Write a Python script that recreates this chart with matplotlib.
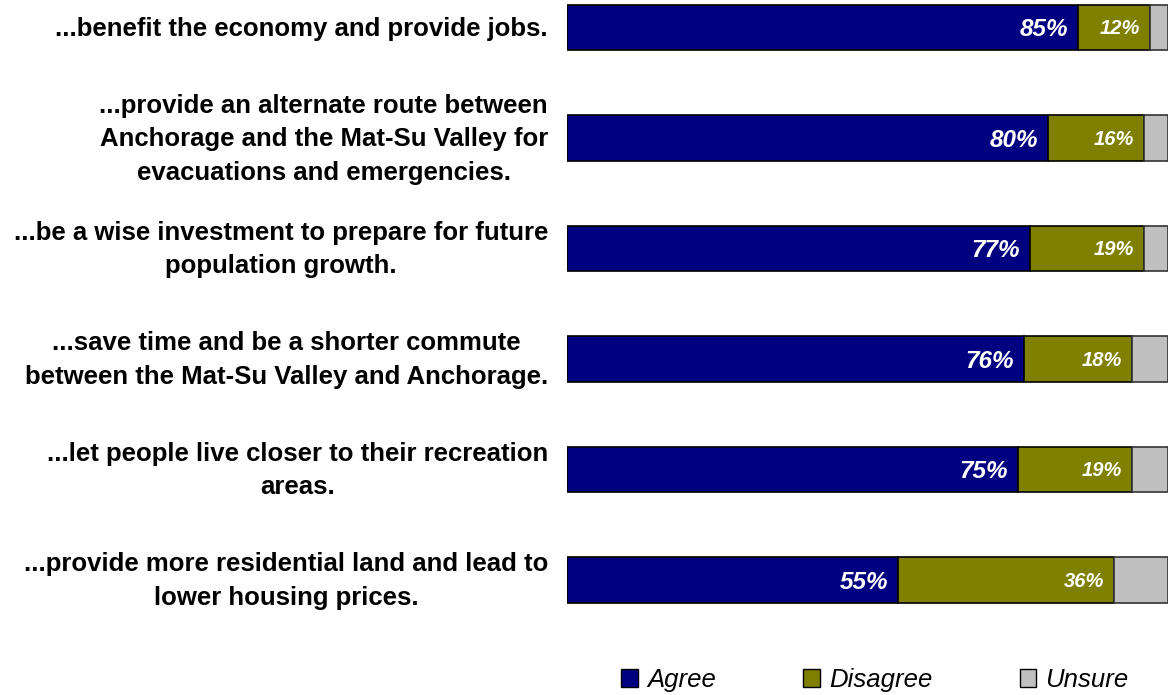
import matplotlib
matplotlib.use("Agg")
import matplotlib.pyplot as plt
from matplotlib.patches import Patch

# statements, top to bottom
labels = [
    "...benefit the economy and provide jobs.",
    "...provide an alternate route between\nAnchorage and the Mat-Su Valley for\nevacuations and emergencies.",
    "...be a wise investment to prepare for future\npopulation growth.",
    "...save time and be a shorter commute\nbetween the Mat-Su Valley and Anchorage.",
    "...let people live closer to their recreation\nareas.",
    "...provide more residential land and lead to\nlower housing prices.",
]
agree = [85, 80, 77, 76, 75, 55]
disagree = [12, 16, 19, 18, 19, 36]
unsure = [3, 4, 4, 6, 6, 9]

c_agree = "#000080"
c_dis = "#808000"
c_uns = "#c0c0c0"

plt.rcParams["font.family"] = ["Liberation Sans", "DejaVu Sans"]

fig = plt.figure(figsize=(11.71, 6.95), dpi=100)
ax = fig.add_axes([567 / 1171, 0, 601 / 1171, 1])

y = list(range(len(labels)))
h = 0.41
left2 = agree
left3 = [a + d for a, d in zip(agree, disagree)]
ax.barh(y, agree, height=h, color=c_agree, edgecolor="black", linewidth=1.2)
ax.barh(y, disagree, left=left2, height=h, color=c_dis, edgecolor="black", linewidth=1.2)
ax.barh(y, unsure, left=left3, height=h, color=c_uns, edgecolor="#333333", linewidth=1.2)

for i in y:
    ax.text(agree[i] - 1.6, i + 0.02, f"{agree[i]}%", ha="right", va="center",
            color="white", fontsize=17.5, fontweight="bold", fontstyle="italic")
    ax.text(left3[i] - 1.6, i + 0.01, f"{disagree[i]}%", ha="right", va="center",
            color="white", fontsize=14.5, fontweight="bold", fontstyle="italic")
    ax.text(-19 / 601, i + 0.01, labels[i], transform=ax.get_yaxis_transform(),
            ha="right", va="center", multialignment="center", fontsize=18.5,
            fontweight="bold", linespacing=1.5)

ax.set_xlim(0, 100)
ax.set_ylim((695 - 27.5) / 110.5, -27.5 / 110.5)
ax.axis("off")

handles = [Patch(facecolor=c, edgecolor="black") for c in (c_agree, c_dis, c_uns)]
fig.legend(handles, ["Agree", "Disagree", "Unsure"], loc="center",
           bbox_to_anchor=(875 / 1171, 1 - 680 / 695), ncol=3, frameon=False,
           prop={"size": 18.5, "style": "italic"}, handlelength=0.65, handleheight=0.65,
           handletextpad=0.35, columnspacing=3.4)

fig.savefig("out.png", dpi=100)
